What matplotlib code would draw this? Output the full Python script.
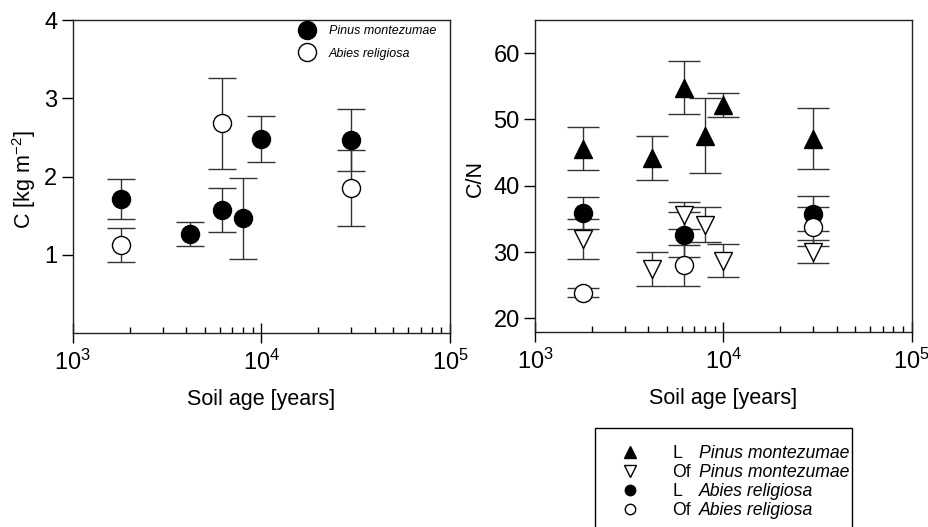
import matplotlib
matplotlib.use('Agg')
import matplotlib.pyplot as plt
from matplotlib.lines import Line2D
from matplotlib.patches import Rectangle
from matplotlib.ticker import LogLocator, NullFormatter

plt.rcParams['font.family'] = 'Liberation Sans'
plt.rcParams['mathtext.fontset'] = 'custom'
plt.rcParams['mathtext.rm'] = 'Liberation Sans'
plt.rcParams['mathtext.it'] = 'Liberation Sans:italic'
plt.rcParams['mathtext.default'] = 'regular'

# soil age of the sites [years]
age_pinus = [1800, 4200, 6200, 8000, 10000, 30000]
age_abies = [1800, 6200, 30000]

# C stock [kg m-2], mean and sd
c_pinus = [1.71, 1.265, 1.57, 1.465, 2.48, 2.465]
c_pinus_sd = [0.254, 0.158, 0.28, 0.517, 0.29, 0.393]
c_abies = [1.12, 2.68, 1.85]
c_abies_sd = [0.218, 0.579, 0.487]

# C/N ratio of L and Of horizons, mean and sd
cn_l_pinus = [45.57, 44.16, 54.78, 47.53, 52.15, 47.08]
cn_l_pinus_sd = [3.23, 3.33, 3.96, 5.65, 1.84, 4.59]
cn_of_pinus = [32.0, 27.47, 35.54, 34.15, 28.73, 30.05]
cn_of_pinus_sd = [3.0, 2.57, 2.0, 2.65, 2.42, 1.72]
cn_l_abies = [35.92, 32.6, 35.8]
cn_l_abies_sd = [2.4, 3.38, 2.67]
cn_of_abies = [23.9, 28.03, 33.83]
cn_of_abies_sd = [0.7, 3.08, 2.97]

horizons = ['L', 'Of', 'L', 'Of']
species = ['Pinus montezumae', 'Pinus montezumae', 'Abies religiosa', 'Abies religiosa']

bar_col = '#333333'


def style_axis(ax):
    ax.set_xscale('log')
    ax.set_xlim(1e3, 1e5)
    ax.xaxis.set_major_locator(LogLocator(base=10, numticks=10))
    ax.xaxis.set_minor_locator(LogLocator(base=10, subs=range(2, 10), numticks=10))
    ax.xaxis.set_minor_formatter(NullFormatter())
    ax.tick_params(axis='x', which='major', direction='inout', length=14, width=1, labelsize=17, pad=5)
    ax.tick_params(axis='x', which='minor', direction='in', length=4, width=1)
    ax.tick_params(axis='y', which='major', direction='out', length=8, width=1, labelsize=17, pad=3)
    for s in ax.spines.values():
        s.set_linewidth(1.0)
        s.set_color('#222222')
    ax.set_xlabel('Soil age [years]', fontsize=15.5)
    ax.xaxis.set_label_coords(0.5, -0.18)


fig = plt.figure(figsize=(9.29, 5.27), dpi=100)
ax1 = fig.add_axes([0.0783, 0.3681, 0.4061, 0.5939])
ax2 = fig.add_axes([0.5759, 0.3706, 0.4055, 0.5915])

# left panel: C stocks
eb = dict(ls='none', ecolor=bar_col, elinewidth=1, capthick=1, mec='black', mew=1)
ax1.errorbar(age_pinus, c_pinus, yerr=c_pinus_sd, fmt='o', ms=13, mfc='black', capsize=10, **eb)
ax1.errorbar(age_abies, c_abies, yerr=c_abies_sd, fmt='o', ms=13, mfc='white', capsize=10, **eb)
style_axis(ax1)
ax1.set_ylim(0, 4)
ax1.set_yticks([1, 2, 3, 4])
ax1.set_ylabel('C [kg m$^{-2}$]', fontsize=15.5)
ax1.yaxis.set_label_coords(-0.092, 0.49)

h1 = [Line2D([], [], ls='none', marker='o', ms=13, mfc='black', mec='black'),
      Line2D([], [], ls='none', marker='o', ms=13, mfc='white', mec='black')]
ax1.legend(h1, ['Pinus montezumae', 'Abies religiosa'], loc='upper left',
           bbox_to_anchor=(0.596, 0.983), frameon=False,
           prop={'style': 'italic', 'size': 9}, handlelength=1.5,
           handletextpad=1.0, labelspacing=0.83, borderpad=0, borderaxespad=0)

# right panel: C/N
ax2.errorbar(age_pinus, cn_l_pinus, yerr=cn_l_pinus_sd, fmt='^', ms=13, mfc='black', capsize=11.5, **eb)
ax2.errorbar(age_pinus, cn_of_pinus, yerr=cn_of_pinus_sd, fmt='v', ms=13, mfc='white', capsize=11.5, **eb)
ax2.errorbar(age_abies, cn_l_abies, yerr=cn_l_abies_sd, fmt='o', ms=13, mfc='black', capsize=11.5, **eb)
ax2.errorbar(age_abies, cn_of_abies, yerr=cn_of_abies_sd, fmt='o', ms=13, mfc='white', capsize=11.5, **eb)
style_axis(ax2)
ax2.set_ylim(18, 65)
ax2.set_yticks([20, 30, 40, 50, 60])
ax2.set_ylabel('C/N', fontsize=15.5)
ax2.yaxis.set_label_coords(-0.130, 0.49)

h2 = [Line2D([], [], ls='none', marker='^', ms=9, mfc='black', mec='black'),
      Line2D([], [], ls='none', marker='v', ms=9, mfc='white', mec='black'),
      Line2D([], [], ls='none', marker='o', ms=7.5, mfc='black', mec='black'),
      Line2D([], [], ls='none', marker='o', ms=7.5, mfc='white', mec='black')]
leg = fig.legend(h2, horizons, loc='upper left', bbox_to_anchor=(609 / 929, 1 - 445 / 527),
                 bbox_transform=fig.transFigure, frameon=False, fontsize=12.7, borderpad=0,
                 handlelength=2.35, handletextpad=1.25, labelspacing=0.11, borderaxespad=0)
# species names in italics next to the horizon labels
fig.canvas.draw()
inv = fig.transFigure.inverted()
for t, name in zip(leg.get_texts(), species):
    bb = t.get_window_extent()
    yc = inv.transform((0, (bb.y0 + bb.y1) / 2))[1]
    fig.text(699 / 929, yc, name, fontsize=12.7, style='italic', va='center', ha='left')
# legend frame, runs past the bottom edge of the figure
fig.patches.append(Rectangle((595 / 929, -0.1), (852 - 595) / 929, 0.1 + (527 - 428) / 527,
                             transform=fig.transFigure, fill=False, edgecolor='black', lw=1.0))

fig.savefig('out.png', dpi=100)
